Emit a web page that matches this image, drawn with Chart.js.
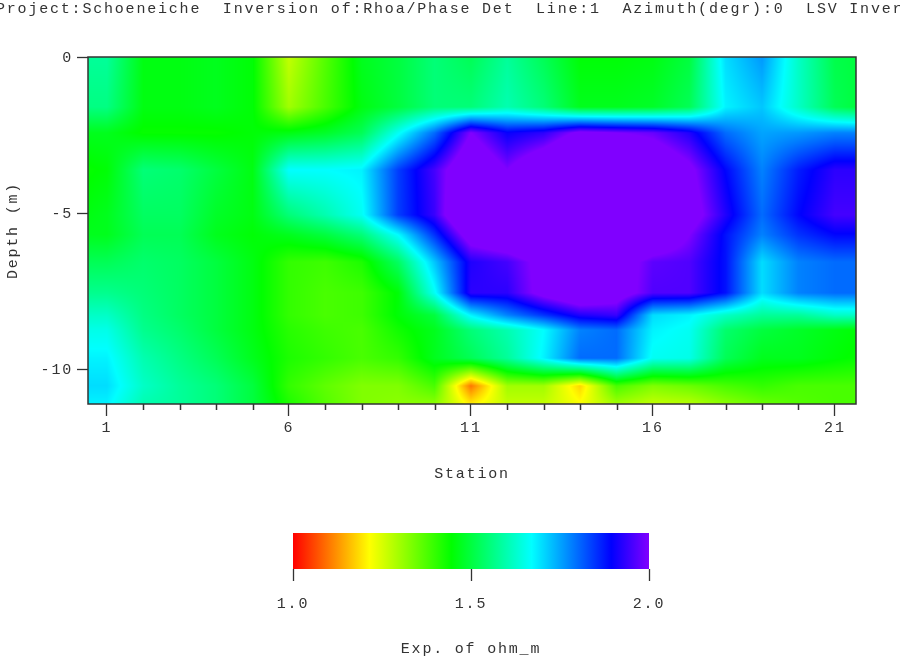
<!DOCTYPE html>
<html><head><meta charset="utf-8">
<style>
html,body{margin:0;padding:0;background:#fff;overflow:hidden;width:900px;height:662px}
canvas{position:absolute;display:block}
#main{left:-4px;top:0}
#bar{left:0;top:490px}
</style>
<script src="https://cdn.jsdelivr.net/npm/chart.js@4"></script>
</head><body>
<canvas id="main" width="940" height="490"></canvas>
<canvas id="bar" width="900" height="172"></canvas>
<script>
const titleText = "Project:Schoeneiche  Inversion of:Rhoa/Phase Det  Line:1  Azimuth(degr):0  LSV Inver";
const stationTicks = [1,6,11,16,21];
const stationMinor = [2,3,4,5,7,8,9,10,12,13,14,15,17,18,19,20];
const depthTicks = [0,-5,-10];
const scaleTicks = [1,1.5,2];
const stations = [0.48,1,2,3,4,5,6,7,8,9,10,11,12,13,14,15,16,17,18,19,20,21,21.58];
const depths = [0.03,-1.57,-2.40,-3.59,-5.03,-5.67,-6.54,-7.53,-8.24,-8.72,-9.62,-10.51,-11.09];
const rho0  = [1.58,1.58,1.46,1.46,1.47,1.45,1.27,1.37,1.47,1.50,1.55,1.52,1.58,1.52,1.45,1.45,1.46,1.50,1.70,1.76,1.62,1.51,1.50];
const rho1  = [1.56,1.56,1.46,1.46,1.47,1.45,1.30,1.38,1.46,1.50,1.55,1.55,1.60,1.55,1.47,1.47,1.48,1.52,1.68,1.72,1.62,1.52,1.50];
const rho2  = [1.47,1.47,1.44,1.44,1.44,1.45,1.46,1.48,1.52,1.66,1.80,2.00,1.90,1.93,2.02,2.00,1.98,1.92,1.80,1.75,1.76,1.78,1.78];
const rho3  = [1.44,1.45,1.55,1.54,1.50,1.46,1.67,1.67,1.68,1.84,1.95,2.10,2.00,2.10,2.20,2.20,2.10,2.02,1.89,1.78,1.87,1.93,1.93];
const rho4  = [1.46,1.47,1.53,1.53,1.48,1.46,1.55,1.60,1.66,1.84,1.94,2.15,2.20,2.20,2.20,2.20,2.15,2.05,1.92,1.80,1.89,1.95,1.95];
const rho5  = [1.47,1.47,1.52,1.52,1.47,1.45,1.47,1.50,1.55,1.67,1.85,2.05,2.10,2.15,2.20,2.20,2.10,2.00,1.88,1.78,1.85,1.89,1.89];
const rho6  = [1.52,1.52,1.54,1.53,1.50,1.46,1.40,1.39,1.42,1.53,1.72,1.92,1.95,2.03,2.10,2.05,1.97,1.96,1.88,1.70,1.78,1.80,1.80];
const rho7  = [1.57,1.57,1.55,1.53,1.50,1.46,1.40,1.38,1.39,1.45,1.66,1.93,1.93,2.03,2.10,2.05,1.96,1.96,1.88,1.70,1.78,1.80,1.80];
const rho8  = [1.62,1.62,1.56,1.53,1.50,1.46,1.40,1.38,1.39,1.45,1.50,1.68,1.78,1.85,1.92,1.94,1.70,1.68,1.62,1.58,1.58,1.62,1.62];
const rho9  = [1.65,1.65,1.57,1.54,1.50,1.46,1.41,1.39,1.38,1.43,1.47,1.55,1.60,1.67,1.78,1.80,1.68,1.66,1.54,1.50,1.48,1.46,1.45];
const rho10 = [1.68,1.68,1.60,1.56,1.52,1.47,1.42,1.40,1.38,1.40,1.47,1.52,1.58,1.68,1.80,1.80,1.66,1.65,1.52,1.47,1.47,1.45,1.44];
const rho11 = [1.70,1.70,1.62,1.58,1.55,1.50,1.40,1.36,1.33,1.33,1.38,1.10,1.30,1.30,1.18,1.38,1.33,1.35,1.38,1.40,1.38,1.38,1.38];
const rho12 = [1.68,1.68,1.60,1.58,1.55,1.50,1.42,1.37,1.33,1.32,1.32,1.20,1.27,1.27,1.22,1.30,1.27,1.28,1.32,1.35,1.37,1.38,1.38];
const rhoRows = [rho0,rho1,rho2,rho3,rho4,rho5,rho6,rho7,rho8,rho9,rho10,rho11,rho12];
const cmapStops = [1.0,1.215,1.445,1.67,1.894,2.0];
const cmapColors = [[255,0,0],[255,255,0],[0,255,0],[0,255,255],[0,0,255],[128,0,255]];

const FONT = {family:"'Liberation Mono', monospace", size:15, lineHeight:1, weight:'normal'};
const INK = '#333333';

function colorOf(v){
  if(v<=cmapStops[0]) return cmapColors[0];
  for(let i=1;i<cmapStops.length;i++){
    if(v<=cmapStops[i]){
      const t=(v-cmapStops[i-1])/(cmapStops[i]-cmapStops[i-1]);
      const a=cmapColors[i-1],b=cmapColors[i];
      return [a[0]+(b[0]-a[0])*t,a[1]+(b[1]-a[1])*t,a[2]+(b[2]-a[2])*t];
    }
  }
  return cmapColors[cmapColors.length-1];
}
function locate(arr,v,desc){
  let i=0;
  while(i<arr.length-2 && (desc? v<arr[i+1] : v>arr[i+1])) i++;
  let t=(v-arr[i])/(arr[i+1]-arr[i]);
  return [i,Math.max(0,Math.min(1,t))];
}
const spacing = {id:'spacing',beforeDraw(c){c.ctx.letterSpacing='1.8px';}};
const fieldPlugin = {
  id:'field',
  beforeDatasetsDraw(chart){
    const {ctx,chartArea:a,scales:{x,y}}=chart;
    const w=Math.round(a.right-a.left),h=Math.round(a.bottom-a.top);
    const off=document.createElement('canvas');off.width=w;off.height=h;
    const oc=off.getContext('2d'),img=oc.createImageData(w,h);
    for(let py=0;py<h;py++){
      const [r,tr]=locate(depths,y.getValueForPixel(a.top+py+.5),true);
      for(let px=0;px<w;px++){
        const [c,tc]=locate(stations,x.getValueForPixel(a.left+px+.5),false);
        const v=(rhoRows[r][c]*(1-tc)+rhoRows[r][c+1]*tc)*(1-tr)+(rhoRows[r+1][c]*(1-tc)+rhoRows[r+1][c+1]*tc)*tr;
        const col=colorOf(v),k=(py*w+px)*4;
        img.data[k]=col[0];img.data[k+1]=col[1];img.data[k+2]=col[2];img.data[k+3]=255;
      }
    }
    oc.putImageData(img,0,0);
    ctx.drawImage(off,a.left,a.top,w,h);
  },
  afterDraw(chart){
    const {ctx,chartArea:a,scales:{x}}=chart;
    ctx.save();
    ctx.strokeStyle=INK;ctx.lineWidth=1.5;
    ctx.strokeRect(a.left,a.top,a.right-a.left,a.bottom-a.top);
    ctx.beginPath();
    stationMinor.forEach(s=>{const p=Math.round(x.getPixelForValue(s))+.5;ctx.moveTo(p,a.bottom);ctx.lineTo(p,a.bottom+6);});
    ctx.stroke();
    ctx.restore();
  }
};
const cellPoints = [];
depths.forEach((d,r)=>stations.forEach((s,c)=>cellPoints.push({x:s,y:d,v:rhoRows[r][c]})));

new Chart(document.getElementById('main'),{
  type:'scatter',
  data:{datasets:[{label:'Exp. of ohm_m',data:cellPoints,pointRadius:0,showLine:false}]},
  options:{
    responsive:false,animation:false,devicePixelRatio:1,
    layout:{padding:0},
    plugins:{legend:{display:false},tooltip:{enabled:false},
      title:{display:true,text:titleText,align:'start',color:INK,font:FONT,padding:{top:2,bottom:40}}},
    scales:{
      x:{type:'linear',min:0.48,max:21.58,
        afterBuildTicks(s){s.ticks=stationTicks.map(v=>({value:v}));},
        afterFit(s){s.height=86;},
        border:{display:false},
        grid:{drawOnChartArea:false,drawTicks:true,tickLength:12,tickColor:INK,tickWidth:1.3},
        ticks:{color:INK,font:FONT,padding:5,maxRotation:0,autoSkip:false,callback:v=>String(v)},
        title:{display:true,text:'Station',color:INK,font:FONT,padding:{top:0,bottom:8}}},
      y:{type:'linear',min:-11.09,max:0.03,
        afterBuildTicks(s){s.ticks=depthTicks.map(v=>({value:v}));},
        afterFit(s){s.width=92;},
        border:{display:false},
        grid:{drawOnChartArea:false,drawTicks:true,tickLength:11,tickColor:INK,tickWidth:1.3},
        ticks:{color:INK,font:FONT,padding:4,autoSkip:false,callback:v=>String(v)},
        title:{display:true,text:'Depth (m)',color:INK,font:FONT,padding:{top:10,bottom:0}}},
      margin:{type:'linear',position:'right',min:0,max:1,
        afterFit(s){s.width=80;},
        border:{display:false},grid:{display:false},ticks:{display:false}}
    }
  },
  plugins:[spacing,fieldPlugin]
});

new Chart(document.getElementById('bar'),{
  type:'bar',
  data:{labels:['scale'],datasets:[{data:[[scaleTicks[0],scaleTicks[2]]],barPercentage:1,categoryPercentage:1,borderWidth:0,
    backgroundColor(ctx){
      const a=ctx.chart.chartArea; if(!a) return '#0f0';
      const g=ctx.chart.ctx.createLinearGradient(a.left,0,a.right,0);
      cmapStops.forEach((v,i)=>g.addColorStop(v-1,'rgb('+cmapColors[i].join(',')+')'));
      return g;
    }}]},
  options:{
    indexAxis:'y',responsive:false,animation:false,devicePixelRatio:1,
    layout:{padding:{left:293,right:251,top:43,bottom:0}},
    plugins:{legend:{display:false},tooltip:{enabled:false}},
    scales:{
      x:{type:'linear',min:1,max:2,
        afterBuildTicks(s){s.ticks=scaleTicks.map(v=>({value:v}));},
        afterFit(s){s.height=93;},
        border:{display:false},
        grid:{drawOnChartArea:false,drawTicks:true,tickLength:12,tickColor:INK,tickWidth:1.3},
        ticks:{color:INK,font:FONT,padding:16,maxRotation:0,autoSkip:false,callback:v=>Number(v).toFixed(1)},
        title:{display:true,text:'Exp. of ohm_m',color:INK,font:FONT,padding:{top:0,bottom:5}}},
      y:{display:false}
    }
  },
  plugins:[spacing]
});
</script>
</body></html>
